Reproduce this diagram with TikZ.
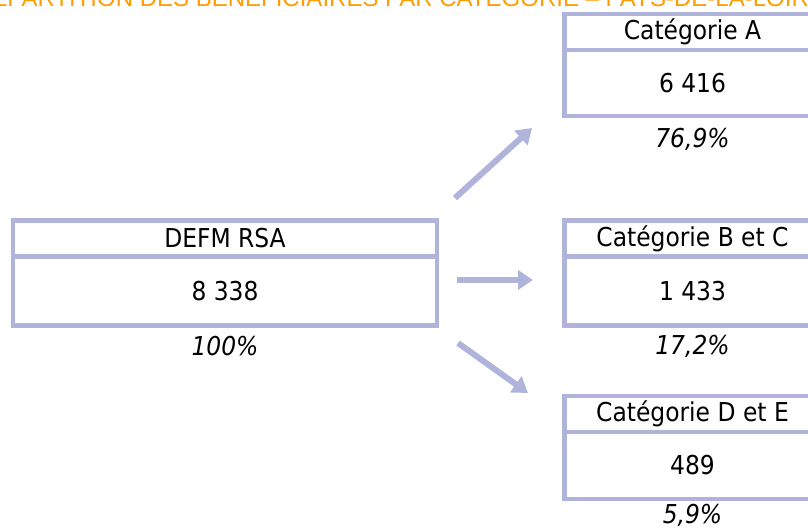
\documentclass[tikz,border=0pt]{standalone}
\usepackage{fontspec}
\setmainfont{DejaVu Sans Condensed}
\newfontfamily\titrefont{Liberation Sans}
\usetikzlibrary{positioning, arrows.meta}
\definecolor{lavande}{RGB}{176,180,218}
\definecolor{orangetitre}{RGB}{255,157,0}

\begin{document}
\begin{tikzpicture}[x=1pt, y=-1pt,
		every node/.style={inner sep=0pt, outer sep=0pt, font=\fontsize{26}{30}\selectfont},
		tete/.style={draw=lavande, line width=4.3pt, minimum height=36pt, anchor=north west},
		valeur/.style={draw=lavande, line width=4.3pt, minimum height=69pt},
		taux/.style={font=\fontsize{26}{30}\selectfont\itshape},
		fleche/.style={draw=lavande, line width=6pt, -{Triangle[length=15pt,width=19pt]}},
		]
		\useasboundingbox (0,0) rectangle (808,532);
		\clip (0,0) rectangle (808,532);
		
		\node[anchor=base west, text=orangetitre, font=\titrefont\fontsize{24}{28}\selectfont] (titre) at (-26,7) {RÉPARTITION DES BÉNÉFICIAIRES PAR CATÉGORIE – PAYS-DE-LA-LOIRE};
		
		\node[tete, minimum width=424pt] (defm) at (13,220.5) {DEFM RSA};
		\node[valeur, minimum width=424pt, below=0pt of defm] (defmval) {8 338};
		\node[taux, below=11pt of defmval] (defmtaux) {100\%};
		
		\node[tete, minimum width=256pt] (catA) at (564.5,14) {Catégorie A};
		\node[valeur, minimum width=256pt, minimum height=66pt, below=0pt of catA] (catAval) {6 416};
		\node[taux, below=12pt of catAval] (catAtaux) {76,9\%};
		
		\node[tete, minimum width=256pt] (catBC) at (564.5,220.5) {Catégorie B et C};
		\node[valeur, minimum width=256pt, below=0pt of catBC] (catBCval) {1 433};
		\node[taux, below=10pt of catBCval] (catBCtaux) {17,2\%};
		
		\node[tete, minimum width=256pt] (catDE) at (564.5,396) {Catégorie D et E};
		\node[valeur, minimum width=256pt, minimum height=67pt, below=0pt of catDE] (catDEval) {489};
		\node[taux, below=5pt of catDEval] (catDEtaux) {5,9\%};
		
		\coordinate (dA) at (455,198);
		\coordinate (fA) at (532,128);
		\coordinate (dBC) at (457,280);
		\coordinate (fBC) at (533,280);
		\coordinate (dDE) at (458,343);
		\coordinate (fDE) at (528,393);
		\draw[fleche] (dA) -- (fA);
		\draw[fleche] (dBC) -- (fBC);
		\draw[fleche] (dDE) -- (fDE);
	\end{tikzpicture}
\end{document}
